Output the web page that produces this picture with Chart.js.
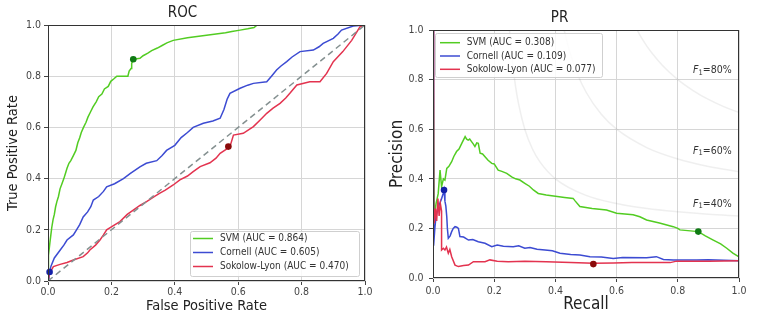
<!DOCTYPE html>
<html>
<head>
<meta charset="utf-8">
<script src="https://cdn.jsdelivr.net/npm/chart.js@4.4.0/dist/chart.umd.min.js"></script>
<style>
  html, body { margin: 0; padding: 0; background: #fff; }
  #wrap { position: relative; width: 760px; height: 319px; }
  .pane { position: absolute; top: 0; width: 380px; height: 319px; }
</style>
</head>
<body>
<div id="wrap">
  <div class="pane" style="left:0"><canvas id="roc" width="380" height="319"></canvas></div>
  <div class="pane" style="left:380px"><canvas id="pr" width="380" height="319"></canvas></div>
</div>
<script>
// ---- ROC curves (false positive rate / true positive rate) ----
var svmFpr = [0, 0, 0.003, 0.006, 0.009, 0.012, 0.016, 0.02, 0.024, 0.028, 0.033, 0.038, 0.044, 0.05, 0.055, 0.06, 0.066, 0.072, 0.08, 0.088, 0.094, 0.1, 0.105, 0.112, 0.12, 0.126, 0.134, 0.142, 0.152, 0.16, 0.17, 0.178, 0.19, 0.198, 0.208, 0.217, 0.252, 0.256, 0.262, 0.264, 0.269, 0.29, 0.3, 0.315, 0.327, 0.345, 0.36, 0.375, 0.395, 0.44, 0.47, 0.5, 0.53, 0.56, 0.58, 0.606, 0.63, 0.65, 0.66, 1];
var svmTpr = [0, 0.03, 0.1, 0.15, 0.18, 0.21, 0.24, 0.26, 0.29, 0.31, 0.33, 0.36, 0.38, 0.4, 0.42, 0.44, 0.46, 0.47, 0.49, 0.51, 0.54, 0.56, 0.58, 0.6, 0.62, 0.64, 0.66, 0.68, 0.7, 0.72, 0.73, 0.75, 0.76, 0.78, 0.79, 0.8, 0.8, 0.82, 0.83, 0.85, 0.866, 0.87, 0.88, 0.89, 0.9, 0.91, 0.92, 0.93, 0.94, 0.95, 0.955, 0.96, 0.965, 0.97, 0.975, 0.98, 0.985, 0.99, 1, 1];

var cornellFpr = [0, 0.003, 0.01, 0.02, 0.038, 0.05, 0.06, 0.08, 0.09, 0.1, 0.111, 0.125, 0.135, 0.143, 0.16, 0.175, 0.185, 0.21, 0.238, 0.26, 0.29, 0.31, 0.343, 0.36, 0.374, 0.4, 0.42, 0.44, 0.458, 0.49, 0.52, 0.543, 0.555, 0.565, 0.574, 0.606, 0.63, 0.648, 0.69, 0.705, 0.721, 0.735, 0.753, 0.77, 0.795, 0.837, 0.855, 0.868, 0.9, 0.915, 0.926, 0.963, 1];
var cornellTpr = [0, 0.03, 0.06, 0.09, 0.12, 0.14, 0.16, 0.18, 0.2, 0.22, 0.25, 0.27, 0.29, 0.316, 0.33, 0.35, 0.368, 0.38, 0.4, 0.42, 0.446, 0.46, 0.47, 0.49, 0.51, 0.53, 0.56, 0.58, 0.6, 0.616, 0.625, 0.636, 0.67, 0.71, 0.733, 0.753, 0.765, 0.772, 0.778, 0.8, 0.824, 0.84, 0.857, 0.875, 0.896, 0.902, 0.915, 0.928, 0.948, 0.965, 0.98, 0.996, 1];

var sokolowFpr = [0, 0.005, 0.017, 0.038, 0.06, 0.08, 0.111, 0.125, 0.132, 0.15, 0.164, 0.175, 0.185, 0.205, 0.227, 0.25, 0.269, 0.29, 0.311, 0.335, 0.353, 0.37, 0.395, 0.416, 0.44, 0.458, 0.48, 0.511, 0.53, 0.543, 0.569, 0.574, 0.585, 0.616, 0.648, 0.67, 0.69, 0.71, 0.732, 0.75, 0.763, 0.785, 0.826, 0.858, 0.879, 0.9, 0.93, 0.958, 0.984, 1];
var sokolowTpr = [0, 0.03, 0.056, 0.065, 0.072, 0.082, 0.095, 0.11, 0.121, 0.14, 0.16, 0.18, 0.2, 0.215, 0.232, 0.26, 0.277, 0.295, 0.31, 0.33, 0.343, 0.355, 0.375, 0.395, 0.41, 0.427, 0.447, 0.462, 0.48, 0.499, 0.52, 0.525, 0.57, 0.577, 0.603, 0.63, 0.655, 0.675, 0.694, 0.715, 0.733, 0.766, 0.778, 0.778, 0.811, 0.857, 0.896, 0.94, 0.993, 1];

var rocOpFpr = [0.269, 0.005, 0.569];
var rocOpTpr = [0.866, 0.035, 0.525];

// ---- PR curves (recall / precision) ----
var svmRecall = [0, 0.004, 0.01, 0.017, 0.023, 0.028, 0.034, 0.039, 0.045, 0.052, 0.061, 0.068, 0.077, 0.085, 0.094, 0.105, 0.11, 0.115, 0.12, 0.126, 0.132, 0.137, 0.143, 0.148, 0.154, 0.162, 0.17, 0.18, 0.192, 0.2, 0.213, 0.225, 0.241, 0.257, 0.27, 0.284, 0.3, 0.315, 0.328, 0.344, 0.37, 0.4, 0.43, 0.458, 0.465, 0.48, 0.52, 0.567, 0.6, 0.654, 0.676, 0.698, 0.74, 0.785, 0.8, 0.807, 0.867, 0.89, 0.916, 0.94, 0.96, 0.98, 1];
var svmPrecision = [1, 0.25, 0.3, 0.34, 0.435, 0.368, 0.4, 0.395, 0.442, 0.45, 0.469, 0.49, 0.51, 0.52, 0.543, 0.57, 0.56, 0.556, 0.56, 0.55, 0.54, 0.53, 0.545, 0.543, 0.503, 0.5, 0.489, 0.475, 0.462, 0.46, 0.435, 0.43, 0.422, 0.408, 0.4, 0.395, 0.382, 0.37, 0.355, 0.341, 0.335, 0.33, 0.325, 0.321, 0.31, 0.288, 0.28, 0.274, 0.261, 0.255, 0.247, 0.234, 0.222, 0.207, 0.2, 0.194, 0.187, 0.17, 0.153, 0.138, 0.12, 0.1, 0.085];

var cornellRecall = [0, 0.002, 0.006, 0.01, 0.016, 0.022, 0.028, 0.033, 0.036, 0.039, 0.042, 0.045, 0.047, 0.05, 0.056, 0.061, 0.066, 0.072, 0.078, 0.083, 0.088, 0.1, 0.116, 0.13, 0.148, 0.17, 0.192, 0.21, 0.23, 0.262, 0.28, 0.3, 0.317, 0.34, 0.366, 0.39, 0.415, 0.45, 0.48, 0.513, 0.55, 0.589, 0.62, 0.698, 0.73, 0.753, 0.785, 0.862, 0.9, 1];
var cornellPrecision = [1, 0.13, 0.2, 0.25, 0.28, 0.3, 0.32, 0.34, 0.355, 0.31, 0.29, 0.247, 0.2, 0.16, 0.17, 0.187, 0.2, 0.207, 0.205, 0.2, 0.167, 0.165, 0.153, 0.155, 0.146, 0.14, 0.126, 0.133, 0.128, 0.126, 0.13, 0.12, 0.123, 0.116, 0.113, 0.11, 0.1, 0.095, 0.093, 0.086, 0.085, 0.079, 0.083, 0.082, 0.086, 0.075, 0.073, 0.073, 0.074, 0.07];

var sokolowRecall = [0, 0.002, 0.004, 0.008, 0.012, 0.016, 0.02, 0.024, 0.028, 0.028, 0.034, 0.039, 0.044, 0.05, 0.055, 0.061, 0.072, 0.083, 0.1, 0.116, 0.132, 0.17, 0.186, 0.21, 0.246, 0.3, 0.37, 0.45, 0.5, 0.524, 0.589, 0.65, 0.775, 0.796, 0.9, 1];
var sokolowPrecision = [1, 0.3, 0.22, 0.28, 0.23, 0.32, 0.25, 0.3, 0.27, 0.113, 0.12, 0.113, 0.125, 0.1, 0.115, 0.086, 0.052, 0.046, 0.05, 0.052, 0.066, 0.066, 0.073, 0.068, 0.066, 0.068, 0.066, 0.063, 0.06, 0.059, 0.06, 0.062, 0.062, 0.068, 0.068, 0.07];

var prOpRecall = [0.867, 0.036, 0.524];
var prOpPrecision = [0.187, 0.355, 0.056];

// iso-F1 reference curves
var f1Recall80 = [0.667, 0.68, 0.7, 0.72, 0.75, 0.8, 0.85, 0.9, 0.95, 1];
var f1Precision80 = [1, 0.971, 0.933, 0.9, 0.857, 0.8, 0.756, 0.72, 0.691, 0.667];
var f1Recall60 = [0.4286, 0.44, 0.45, 0.47, 0.5, 0.55, 0.6, 0.7, 0.8, 0.9, 1];
var f1Precision60 = [1, 0.943, 0.9, 0.829, 0.75, 0.66, 0.6, 0.525, 0.48, 0.45, 0.4286];
var f1Recall40 = [0.25, 0.26, 0.27, 0.28, 0.3, 0.325, 0.35, 0.4, 0.5, 0.6, 0.7, 0.8, 0.9, 1];
var f1Precision40 = [1, 0.867, 0.771, 0.7, 0.6, 0.52, 0.467, 0.4, 0.333, 0.3, 0.28, 0.267, 0.257, 0.25];
var f1Labels = ['80%', '60%', '40%'];

var rocLabels = ['SVM (AUC = 0.864)', 'Cornell (AUC = 0.605)', 'Sokolow-Lyon (AUC = 0.470)'];
var prLabels = ['SVM (AUC = 0.308)', 'Cornell (AUC = 0.109)', 'Sokolow-Lyon (AUC = 0.077)'];
var ticks = [0, 0.2, 0.4, 0.6, 0.8, 1.0];

var GREEN = '#52cc22', BLUE = '#3c4bd2', RED = '#e3334f';
var OP_COLORS = ['#0f7a14', '#1420a8', '#8a0a0a'];
var FONT = "'DejaVu Sans Condensed', 'Liberation Sans', sans-serif";

Chart.defaults.font.family = FONT;
Chart.defaults.color = '#444';

function pts(xs, ys) {
  return xs.map(function (x, i) { return {x: x, y: ys[i]}; });
}

function curve(xs, ys, color, order) {
  return {
    data: pts(xs, ys), showLine: true, borderColor: color, borderWidth: 1.5,
    pointRadius: 0, fill: false, order: order
  };
}

function opPoints(xs, ys) {
  return {
    data: pts(xs, ys), showLine: false, pointRadius: 3.3, pointBorderWidth: 0,
    pointBackgroundColor: OP_COLORS, order: 0, clip: false
  };
}

function axis(titleText, titleSize, titlePad, tickPad, fitSize, horizontal) {
  return {
    type: 'linear', min: 0, max: 1,
    afterBuildTicks: function (s) { s.ticks = ticks.map(function (v) { return {value: v}; }); },
    ticks: {
      padding: tickPad, font: {size: 10.5}, color: '#444',
      callback: function (v) { return v.toFixed(1); }
    },
    grid: { color: '#d6d6d6', lineWidth: 1, tickColor: '#444', tickLength: 4 },
    border: { display: false },
    title: { display: true, text: titleText, font: {size: titleSize}, color: '#222', padding: titlePad },
    afterFit: function (s) { if (horizontal) s.height = fitSize; else s.width = fitSize; }
  };
}

function framePlugin(legend) {
  return {
    id: 'frameLegend',
    afterDatasetsDraw: function (chart) {
      var ctx = chart.ctx, a = chart.chartArea;
      ctx.save();
      ctx.strokeStyle = '#333';
      ctx.lineWidth = 1;
      ctx.strokeRect(Math.round(a.left) + 0.5, Math.round(a.top) + 0.5,
        Math.round(a.right - a.left) - 1, Math.round(a.bottom - a.top) - 1);

      // legend box
      ctx.fillStyle = 'rgba(255,255,255,0.85)';
      ctx.strokeStyle = '#cfcfcf';
      ctx.beginPath();
      ctx.roundRect(legend.x, legend.y, legend.w, legend.h, 2);
      ctx.fill();
      ctx.stroke();
      var colors = [GREEN, BLUE, RED];
      ctx.font = '10px ' + FONT;
      ctx.textBaseline = 'middle';
      legend.labels.forEach(function (t, i) {
        var y = legend.rows[i];
        ctx.strokeStyle = colors[i];
        ctx.lineWidth = 1.5;
        ctx.beginPath();
        ctx.moveTo(legend.lineX, y);
        ctx.lineTo(legend.lineX + 20, y);
        ctx.stroke();
        ctx.fillStyle = '#333';
        ctx.fillText(t, legend.textX, y);
      });
      ctx.restore();
    }
  };
}

var f1Plugin = {
  id: 'f1Labels',
  afterDatasetsDraw: function (chart) {
    var ctx = chart.ctx, xs = chart.scales.x, ys = chart.scales.y;
    var levels = [0.836, 0.512, 0.298];
    ctx.save();
    ctx.fillStyle = '#333';
    ctx.textBaseline = 'middle';
    f1Labels.forEach(function (t, i) {
      var x = xs.getPixelForValue(0.85), y = ys.getPixelForValue(levels[i]);
      ctx.font = 'italic 10.5px ' + FONT;
      ctx.fillText('F', x, y);
      x += ctx.measureText('F').width;
      ctx.font = '7.5px ' + FONT;
      ctx.fillText('1', x, y + 2);
      x += ctx.measureText('1').width;
      ctx.font = '10.5px ' + FONT;
      ctx.fillText('=' + t, x, y);
    });
    ctx.restore();
  }
};

var common = {
  responsive: false, animation: false, events: [],
  plugins: { legend: { display: false }, tooltip: { enabled: false } }
};

new Chart(document.getElementById('roc').getContext('2d'), {
  type: 'scatter',
  data: {
    datasets: [
      curve(svmFpr, svmTpr, GREEN, 4),
      curve(cornellFpr, cornellTpr, BLUE, 3),
      curve(sokolowFpr, sokolowTpr, RED, 2),
      {
        data: pts([0, 1], [0, 1]), showLine: true, borderColor: '#849090', borderWidth: 1.5,
        borderDash: [6, 4], pointRadius: 0, order: 1
      },
      opPoints(rocOpFpr, rocOpTpr)
    ]
  },
  options: Object.assign({}, common, {
    layout: { padding: { left: 0, right: 15, top: 0, bottom: 0 } },
    plugins: Object.assign({}, common.plugins, {
      title: { display: true, text: 'ROC', font: {size: 15, weight: 'normal'}, color: '#222',
        padding: { top: 4.5, bottom: 2.5 } }
    }),
    scales: {
      x: axis('False Positive Rate', 14.5, { bottom: 4.5, top: 0 }, 1, 38, true),
      y: axis('True Positive Rate', 14.5, { top: 5, bottom: 0 }, 3, 48, false)
    }
  }),
  plugins: [framePlugin({
    x: 190.5, y: 231.5, w: 169, h: 45, rows: [238.5, 252.5, 266.5],
    lineX: 193, textX: 220, labels: rocLabels
  })]
});

var gray = 'rgba(128,128,128,0.13)';
function iso(xs, ys) {
  return {
    data: pts(xs, ys), showLine: true, borderColor: gray, borderWidth: 1.5, pointRadius: 0,
    cubicInterpolationMode: 'monotone', order: 5
  };
}

new Chart(document.getElementById('pr').getContext('2d'), {
  type: 'scatter',
  data: {
    datasets: [
      iso(f1Recall80, f1Precision80),
      iso(f1Recall60, f1Precision60),
      iso(f1Recall40, f1Precision40),
      curve(svmRecall, svmPrecision, GREEN, 4),
      curve(cornellRecall, cornellPrecision, BLUE, 3),
      curve(sokolowRecall, sokolowPrecision, RED, 2),
      opPoints(prOpRecall, prOpPrecision)
    ]
  },
  options: Object.assign({}, common, {
    layout: { padding: { left: 0, right: 21, top: 0, bottom: 0 } },
    plugins: Object.assign({}, common.plugins, {
      title: { display: true, text: 'PR', font: {size: 15, weight: 'normal'}, color: '#222',
        padding: { top: 9.5, bottom: 2.5 } }
    }),
    scales: {
      x: axis('Recall', 17, { bottom: 4.5, top: 0 }, 2.5, 41, true),
      y: axis('Precision', 17, { top: 7.5, bottom: 0 }, 5.5, 53, false)
    }
  }),
  plugins: [f1Plugin, framePlugin({
    x: 55.5, y: 33.5, w: 167, h: 44, rows: [42.7, 56, 69.3],
    lineX: 60, textX: 86.7, labels: prLabels
  })]
});
</script>
</body>
</html>
